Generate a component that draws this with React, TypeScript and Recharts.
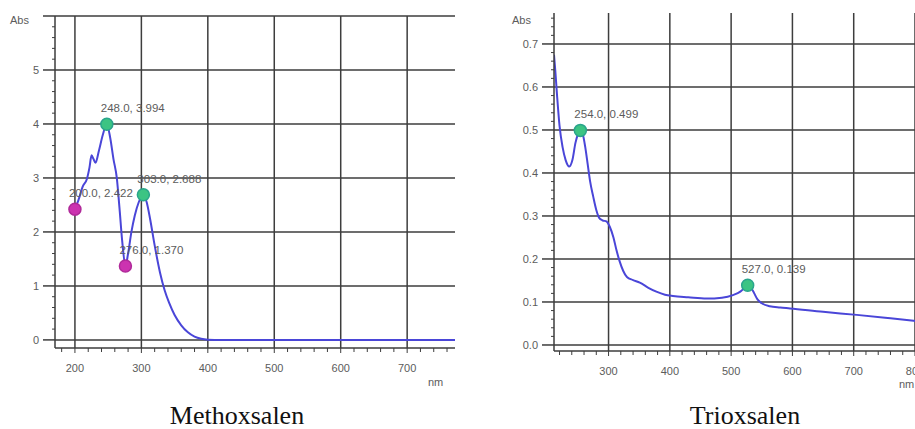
import React from "react";
import { ComposedChart, Line, Scatter, XAxis, YAxis, CartesianGrid } from "recharts";

// Methoxsalen spectrum (nm, Abs)
const methoxNm = [200, 205, 212, 218, 222, 225, 228, 231, 236, 242, 248, 253, 258, 263, 267, 271, 276, 280, 285, 290, 296, 303, 308, 313, 320, 328, 335, 342, 350, 360, 370, 380, 390, 400, 420, 500, 600, 700, 772];
const methoxAbs = [2.422, 2.58, 2.85, 2.98, 3.2, 3.42, 3.35, 3.28, 3.5, 3.8, 3.994, 3.75, 3.35, 3.0, 2.45, 1.85, 1.37, 1.6, 2.0, 2.3, 2.55, 2.688, 2.55, 2.25, 1.75, 1.25, 0.92, 0.68, 0.46, 0.27, 0.14, 0.06, 0.02, 0.005, 0, 0, 0, 0, 0];
const methoxPeakNm = [248, 303];
const methoxPeakAbs = [3.994, 2.688];
const methoxValleyNm = [200, 276];
const methoxValleyAbs = [2.422, 1.37];

// Trioxsalen spectrum
const trioxNm = [211, 213, 216, 220, 225, 230, 236, 241, 246, 250, 254, 258, 262, 266, 270, 275, 280, 285, 290, 297, 302, 308, 313, 318, 324, 330, 340, 351, 365, 378, 392, 405, 430, 460, 485, 503, 515, 522, 527, 532, 537, 543, 550, 563, 580, 596, 650, 705, 760, 800];
const trioxAbs = [0.675, 0.64, 0.58, 0.51, 0.46, 0.43, 0.415, 0.43, 0.47, 0.49, 0.499, 0.49, 0.46, 0.42, 0.38, 0.345, 0.314, 0.295, 0.29, 0.287, 0.275, 0.25, 0.22, 0.195, 0.172, 0.158, 0.151, 0.145, 0.133, 0.124, 0.117, 0.114, 0.111, 0.108, 0.11, 0.116, 0.124, 0.133, 0.139, 0.134, 0.122, 0.106, 0.097, 0.09, 0.087, 0.085, 0.077, 0.07, 0.062, 0.056];
const trioxPeakNm = [254, 527];
const trioxPeakAbs = [0.499, 0.139];

const methoxXMajor = [200, 300, 400, 500, 600, 700];
const methoxYMajor = [0, 1, 2, 3, 4, 5, 6];
const trioxXMajor = [300, 400, 500, 600, 700, 800];
const trioxYMajor = [0, 0.1, 0.2, 0.3, 0.4, 0.5, 0.6, 0.7];

const zip = (xs: number[], ys: number[]) => xs.map((nm, i) => ({ nm, abs: ys[i] }));

const methoxData = zip(methoxNm, methoxAbs);
const methoxPeaks = zip(methoxPeakNm, methoxPeakAbs);
const methoxValleys = zip(methoxValleyNm, methoxValleyAbs);
const trioxData = zip(trioxNm, trioxAbs);
const trioxPeaks = zip(trioxPeakNm, trioxPeakAbs);

const GRID = "#3d3d3d";
const TEXT = "#5c5c5c";
const LINE = "#4a46d8";
const SANS = "'Liberation Sans', Arial, sans-serif";

// minor ticks every `step` between lo and hi
const steps = (lo: number, hi: number, step: number) => {
  const out: number[] = [];
  for (let k = Math.ceil(lo / step - 1e-9); k * step <= hi + 1e-9; k++) out.push(Math.round(k * step * 1000) / 1000);
  return out;
};
const isIn = (arr: number[], v: number) => arr.some((a) => Math.abs(a - v) < 1e-6);

const yTick = (major: number[], fmt: (v: number) => string) => (props: any) => {
  const { x, y, payload } = props;
  const v = payload.value;
  if (!isIn(major, v)) return <line x1={x - 3} x2={x} y1={y} y2={y} stroke={GRID} strokeWidth={1} />;
  const label = fmt(v);
  return (
    <g>
      <line x1={x - 12} x2={x} y1={y} y2={y} stroke={GRID} strokeWidth={1.5} />
      {label && (
        <text x={x - 16} y={y} dy={4} textAnchor="end" fontSize={11} fontFamily={SANS} fill={TEXT}>
          {label}
        </text>
      )}
    </g>
  );
};

const xTick = (major: number[]) => (props: any) => {
  const { x, y, payload } = props;
  const v = payload.value;
  if (!isIn(major, v)) return <line x1={x} x2={x} y1={y} y2={y + 4} stroke={GRID} strokeWidth={1} />;
  return (
    <g>
      <line x1={x} x2={x} y1={y} y2={y + 5} stroke={GRID} strokeWidth={1} />
      <text x={x} y={y + 24} textAnchor="middle" fontSize={11} fontFamily={SANS} fill={TEXT}>
        {v}
      </text>
    </g>
  );
};

const marker = (fill: string, stroke: string) => (props: any) => {
  const { cx, cy, payload } = props;
  return (
    <g>
      <circle cx={cx} cy={cy} r={6} fill={fill} stroke={stroke} strokeWidth={1.5} />
      <text x={cx - 6} y={cy - 12} fontSize={11.5} fontFamily={SANS} fill={TEXT}>
        {`${payload.nm.toFixed(1)}, ${payload.abs.toFixed(3)}`}
      </text>
    </g>
  );
};

const small = (left: number, top: number, text: string) => (
  <div style={{ position: "absolute", left, top, fontSize: 11, fontFamily: SANS, color: TEXT, lineHeight: "12px" }}>{text}</div>
);

const caption = (center: number, text: string) => (
  <div
    style={{
      position: "absolute",
      left: center - 100,
      width: 200,
      top: 403,
      textAlign: "center",
      fontFamily: "'Liberation Serif', 'Times New Roman', serif",
      fontSize: 26,
      lineHeight: "26px",
      color: "#111",
    }}
  >
    {text}
  </div>
);

export default function App() {
  const mxDomain = [170, 772];
  const myDomain = [-0.15, 6];
  const txDomain = [211, 800];
  const tyDomain = [-0.014, 0.772];
  return (
    <div style={{ position: "absolute", left: 0, top: 0, width: 915, height: 429, overflow: "hidden", background: "#fff" }}>
      <div style={{ position: "absolute", left: 0, top: 0 }}>
        <ComposedChart width={460} height={429} margin={{ top: 16, right: 5, bottom: 51, left: 0 }}>
          <CartesianGrid horizontalValues={methoxYMajor} verticalValues={methoxXMajor} stroke={GRID} strokeWidth={1.5} strokeDasharray="" />
          <XAxis
            type="number"
            dataKey="nm"
            domain={mxDomain}
            allowDataOverflow
            ticks={steps(180, 770, 20)}
            interval={0}
            height={30}
            tickSize={0}
            tickMargin={0}
            tickLine={false}
            axisLine={{ stroke: GRID, strokeWidth: 1.5 }}
            tick={xTick(methoxXMajor)}
          />
          <YAxis
            type="number"
            domain={myDomain}
            allowDataOverflow
            ticks={steps(0, 6, 0.2)}
            interval={0}
            width={55}
            tickSize={0}
            tickMargin={0}
            tickLine={false}
            axisLine={{ stroke: GRID, strokeWidth: 1.5 }}
            tick={yTick(methoxYMajor, (v) => (v === 6 ? "" : String(v)))}
          />
          <Line data={methoxData} dataKey="abs" type="monotone" stroke={LINE} strokeWidth={2} dot={false} activeDot={false} isAnimationActive={false} />
          <Scatter data={methoxPeaks} dataKey="abs" shape={marker("#3cc483", "#2aa58c")} isAnimationActive={false} />
          <Scatter data={methoxValleys} dataKey="abs" shape={marker("#cc33b0", "#b02a9a")} isAnimationActive={false} />
        </ComposedChart>
      </div>
      <div style={{ position: "absolute", left: 455, top: 0 }}>
        <ComposedChart width={460} height={429} margin={{ top: 13, right: 0, bottom: 48, left: 0 }}>
          <CartesianGrid horizontalValues={trioxYMajor} verticalValues={trioxXMajor} stroke={GRID} strokeWidth={1.5} strokeDasharray="" />
          <XAxis
            type="number"
            dataKey="nm"
            domain={txDomain}
            allowDataOverflow
            ticks={steps(220, 800, 20)}
            interval={0}
            height={30}
            tickSize={0}
            tickMargin={0}
            tickLine={false}
            axisLine={{ stroke: GRID, strokeWidth: 1.5 }}
            tick={xTick(trioxXMajor)}
          />
          <YAxis
            type="number"
            domain={tyDomain}
            allowDataOverflow
            ticks={steps(0, 0.76, 0.02)}
            interval={0}
            width={99}
            tickSize={0}
            tickMargin={0}
            tickLine={false}
            axisLine={{ stroke: GRID, strokeWidth: 1.5 }}
            tick={yTick(trioxYMajor, (v) => v.toFixed(1))}
          />
          <Line data={trioxData} dataKey="abs" type="monotone" stroke={LINE} strokeWidth={2} dot={false} activeDot={false} isAnimationActive={false} />
          <Scatter data={trioxPeaks} dataKey="abs" shape={marker("#3cc483", "#2aa58c")} isAnimationActive={false} />
        </ComposedChart>
      </div>
      {small(10, 14, "Abs")}
      {small(512, 14, "Abs")}
      {small(428, 376, "nm")}
      {small(899, 378, "nm")}
      {caption(237, "Methoxsalen")}
      {caption(745, "Trioxsalen")}
    </div>
  );
}
